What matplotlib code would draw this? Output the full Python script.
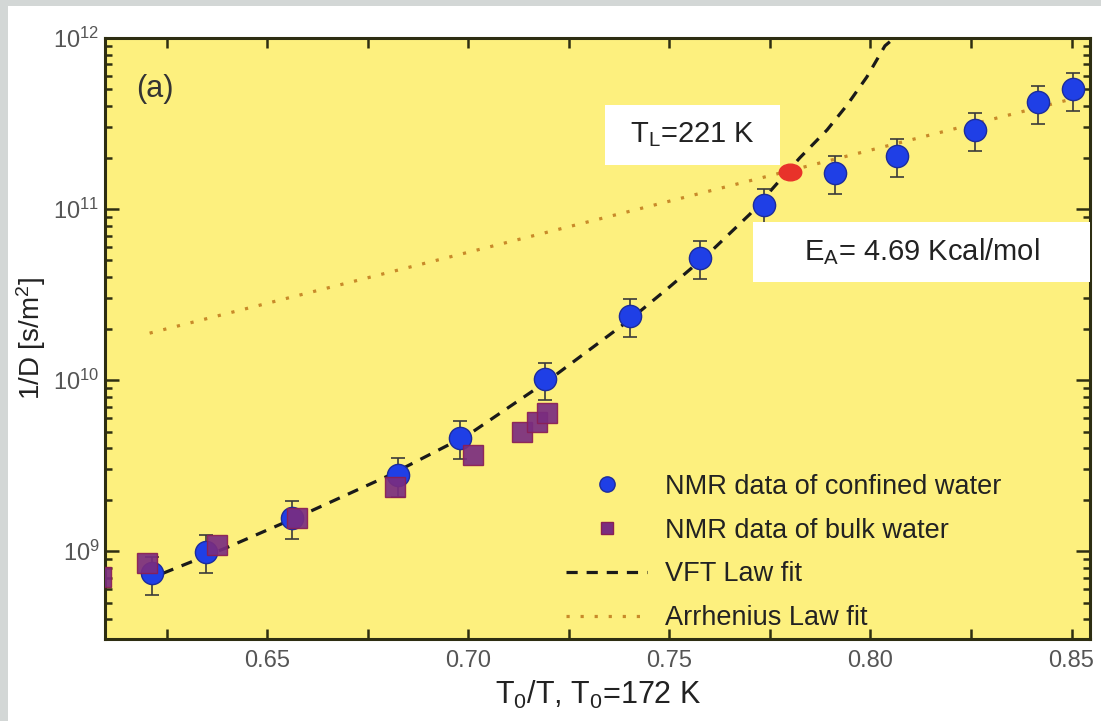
import matplotlib
matplotlib.use("Agg")
import matplotlib.pyplot as plt
from matplotlib.lines import Line2D
from matplotlib.markers import MarkerStyle
from matplotlib.patches import Rectangle
from matplotlib.transforms import Affine2D
from matplotlib.ticker import MultipleLocator, LogLocator, NullFormatter

plt.rcParams['font.family'] = ['Liberation Sans', 'DejaVu Sans']
plt.rcParams['mathtext.fontset'] = 'custom'
plt.rcParams['mathtext.rm'] = 'Liberation Sans'
plt.rcParams['mathtext.it'] = 'Liberation Sans:italic'

# confined water, NMR (T0/T, 1/D in s/m^2)
conf_x = [0.6213, 0.6347, 0.6561, 0.6825, 0.6980, 0.7191, 0.7402,
          0.7576, 0.7735, 0.7912, 0.8066, 0.8260, 0.8417, 0.8504]
conf_y = [7.4e8, 9.9e8, 1.56e9, 2.78e9, 4.6e9, 1.01e10, 2.37e10,
          5.2e10, 1.05e11, 1.63e11, 2.04e11, 2.9e11, 4.2e11, 5.0e11]
conf_err = [1.85e8, 2.5e8, 3.9e8, 7.0e8, 1.15e9, 2.5e9, 5.9e9,
            1.3e10, 2.6e10, 4.1e10, 5.1e10, 7.3e10, 1.05e11, 1.25e11]

# bulk water, NMR
bulk_x = [0.6085, 0.6200, 0.6374, 0.6573, 0.6817, 0.7011, 0.7133, 0.7170, 0.7195]
bulk_y = [7.05e8, 8.5e8, 1.08e9, 1.56e9, 2.37e9, 3.64e9, 4.97e9, 5.7e9, 6.4e9]

# VFT fit curve
vft_x = [0.624, 0.640, 0.660, 0.680, 0.700, 0.720, 0.740, 0.750, 0.760,
         0.770, 0.7824, 0.7892, 0.7942, 0.7991, 0.8036, 0.807]
vft_y = [7.41e8, 1.05e9, 1.68e9, 2.75e9, 4.79e9, 1.0e10, 2.24e10, 3.5e10, 5.56e10,
         9.33e10, 1.99e11, 2.9e11, 4.06e11, 5.92e11, 9.0e11, 1.05e12]

# Arrhenius fit line
arr_x = [0.6207, 0.8546]
arr_y = [1.88e10, 4.68e11]

# crossover point T_L
cross_x = [0.780]
cross_y = [1.65e11]

blue = '#1f3fe6'
purple = '#7a2d80'
orange = '#c88a2a'
yellow = '#fdf07e'
txt = '#222222'

fig = plt.figure(figsize=(11.01, 7.21), dpi=100)
fig.patch.set_facecolor('#d3d7d6')
fig.add_artist(Rectangle((8 / 1101, 0), 1, 1 - 6 / 721, transform=fig.transFigure,
                         facecolor='white', edgecolor='none', zorder=-10))

ax = fig.add_axes([105 / 1101, 1 - 639 / 721, 985 / 1101, 601 / 721])
ax.set_facecolor(yellow)
ax.set_yscale('log')
ax.set_xlim(0.6096, 0.8546)
ax.set_ylim(3.06e8, 1e12)

ax.plot(arr_x, arr_y, linestyle=(0, (1, 3.4)), color=orange, lw=2.3, zorder=2)
ax.plot(vft_x, vft_y, linestyle=(0, (3.5, 2.8)), color='#1a1a1a', lw=2.3, zorder=3)

ax.errorbar(conf_x, conf_y, yerr=conf_err, fmt='none', ecolor='#3a3a3a',
            elinewidth=1.2, capsize=5, capthick=1.2, zorder=4)
ax.plot(conf_x, conf_y, 'o', ms=16, mfc=blue, mec='#1c2c9c', mew=1.0, zorder=5)
ax.plot(bulk_x, bulk_y, 's', ms=14, mfc=purple, mec='#8a1f55', mew=1.0,
        alpha=0.92, zorder=6)

oval = MarkerStyle('o', transform=Affine2D().scale(1.35, 1.0))
ax.plot(cross_x, cross_y, linestyle='none', marker=oval, ms=12,
        mfc='#e8322a', mec='#e8322a', zorder=6)

# white label boxes
ax.add_patch(Rectangle((0.5076, 0.7887), 0.1777, 0.0998, transform=ax.transAxes,
                       facecolor='white', edgecolor='none', zorder=7))
ax.text(0.596, 0.8386, r'T$_\mathrm{L}$=221 K', transform=ax.transAxes,
        ha='center', va='center', fontsize=21, color=txt, zorder=8)
ax.add_patch(Rectangle((0.6579, 0.594), 0.3421, 0.0998, transform=ax.transAxes,
                       facecolor='white', edgecolor='none', zorder=7))
ax.text(0.8294, 0.644, r'E$_\mathrm{A}$= 4.69 Kcal/mol', transform=ax.transAxes,
        ha='center', va='center', fontsize=21, color=txt, zorder=8)

ax.text(0.051, 0.915, '(a)', transform=ax.transAxes, ha='center', va='center',
        fontsize=22, color='#333333')

handles = [
    Line2D([], [], linestyle='none', marker='o', ms=11, mfc=blue, mec='#1c2c9c'),
    Line2D([], [], linestyle='none', marker='s', ms=9, mfc=purple, mec='#8a1f55'),
    Line2D([], [], linestyle=(0, (3.5, 2.8)), color='#1a1a1a', lw=2.3),
    Line2D([], [], linestyle=(0, (1, 3.4)), color=orange, lw=2.3),
]
labels = ['NMR data of confined water', 'NMR data of bulk water',
          'VFT Law fit', 'Arrhenius Law fit']
leg = ax.legend(handles, labels, loc='upper left', bbox_to_anchor=(0.468, 0.275),
                frameon=False, fontsize=19.5, handlelength=3.0, handletextpad=0.65,
                labelspacing=0.66, borderpad=0, borderaxespad=0)
for t in leg.get_texts():
    t.set_color(txt)

# axes styling
for s in ax.spines.values():
    s.set_linewidth(2.2)
    s.set_color('#2e2e12')

ax.xaxis.set_major_locator(MultipleLocator(0.05))
ax.xaxis.set_minor_locator(MultipleLocator(0.025))
ax.xaxis.set_major_formatter(plt.FuncFormatter(lambda v, p: f'{v:.2f}'))
ax.yaxis.set_major_locator(LogLocator(base=10, numticks=10))
ax.yaxis.set_minor_locator(LogLocator(base=10, subs=range(2, 10), numticks=20))
ax.yaxis.set_minor_formatter(NullFormatter())

ax.tick_params(which='both', direction='in', top=True, right=True,
               color='#2e2e12', width=1.8)
ax.tick_params(axis='x', which='major', length=7, pad=8, labelsize=17,
               labelcolor='#555555')
ax.tick_params(axis='x', which='minor', length=7)
ax.tick_params(axis='y', which='major', length=10, pad=4, labelsize=17,
               labelcolor='#555555')
ax.tick_params(axis='y', which='minor', length=5)

ax.set_xlabel(r'T$_\mathrm{0}$/T, T$_\mathrm{0}$=172 K', fontsize=22,
              color=txt, labelpad=5)
ax.set_ylabel(r'1/D [s/m$^\mathrm{2}$]', fontsize=20, color=txt, labelpad=4)

fig.savefig('out.png', dpi=100)
